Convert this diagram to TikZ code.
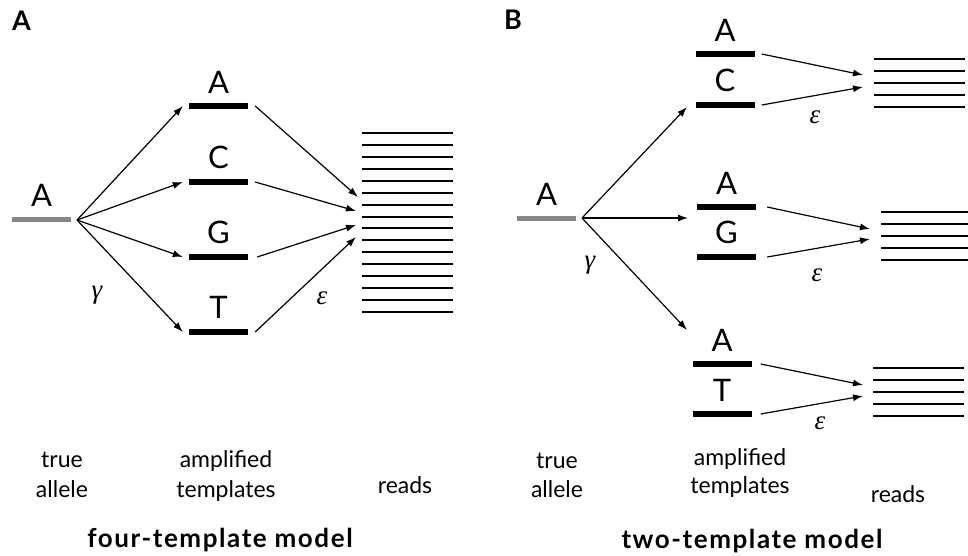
\documentclass[tikz,border=0pt]{standalone}
\usepackage{fontspec}
\setmainfont{Lato}
\newfontfamily\ratefont{Liberation Serif}
\newfontfamily\titlefont[LetterSpace=6]{Lato}
\usetikzlibrary{arrows.meta}
\definecolor{allelegray}{RGB}{135,135,135}
\begin{document}
\begin{tikzpicture}[x=1pt,y=-1pt,
  tmpl/.style={fill=black, draw=none, inner sep=0pt, minimum width=59pt, minimum height=6pt},
  truebar/.style={fill=allelegray, draw=none, inner sep=0pt, minimum width=59pt, minimum height=5pt},
  base/.style={font=\fontsize{31}{31}\selectfont, anchor=base, inner sep=0pt},
  lbl/.style={font=\fontsize{23}{23}\selectfont, anchor=base, inner sep=0pt},
  ttl/.style={font=\titlefont\fontsize{26}{26}\selectfont\bfseries, anchor=base, inner sep=0pt},
  panel/.style={font=\fontsize{27}{27}\selectfont\bfseries, anchor=base west, inner sep=0pt},
  rate/.style={font=\fontsize{27}{27}\selectfont\ratefont\itshape, inner sep=0pt},
  arr/.style={line width=1.2pt, -{Latex[length=10pt,width=7pt]}},
  readline/.style={line width=2pt}
]
\useasboundingbox (0,0) rectangle (968,555);

% ---------------- panel A: four-template model ----------------
\node[panel] (pA) at (12,30) {A};

\node[truebar] (allA) at (41.5,219) {};
\node[base] (allAl) at (41.5,206) {A};
\coordinate (oA) at (77,220);

\node[tmpl] (tA) at (218.5,106) {};
\node[tmpl] (tC) at (218.5,182) {};
\node[tmpl] (tG) at (218.5,257) {};
\node[tmpl] (tT) at (218.5,332) {};
\node[base] at (218.5,93) {A};
\node[base] at (218.5,168) {C};
\node[base] at (218.5,243) {G};
\node[base] at (218.5,318) {T};

\foreach \i in {0,...,15}
  \draw[readline] (362,{133+\i*11.93}) -- (453,{133+\i*11.93});

\coordinate (rA1) at (358,197);
\coordinate (rA2) at (356,211);
\coordinate (rA3) at (356,225);
\coordinate (rA4) at (356,237);

\draw[arr] (oA) -- ([xshift=-6pt]tA.west);
\draw[arr] (oA) -- ([xshift=-6pt]tC.west);
\draw[arr] (oA) -- ([xshift=-6pt]tG.west);
\draw[arr] (oA) -- ([xshift=-6pt]tT.west);

\draw[arr] ([xshift=7pt]tA.east) -- (rA1);
\draw[arr] ([xshift=7pt]tC.east) -- (rA2);
\draw[arr] ([xshift=9pt]tG.east) -- (rA3);
\draw[arr] ([xshift=7pt]tT.east) -- (rA4);

\node[rate] (gA) at (97,295) {γ};
\node[rate] (eA) at (322,298) {ε};

\node[lbl] at (62,467) {true};
\node[lbl] at (62,497) {allele};
\node[lbl] at (226,467) {amplified};
\node[lbl] at (226,497) {templates};
\node[lbl] at (405,493) {reads};
\node[ttl] at (220,547) {four-template model};

% ---------------- panel B: two-template model ----------------
\node[panel] (pB) at (504,29) {B};

\node[truebar] (allB) at (546.5,218) {};
\node[base] (allBl) at (546.5,205) {A};
\coordinate (oB) at (582,218);

% pair A/C
\node[tmpl] (b1A) at (725,54) {};
\node[tmpl] (b1C) at (725,105) {};
\node[base] at (725,41) {A};
\node[base] at (725,91) {C};
% pair A/G
\node[tmpl] (b2A) at (726.5,207) {};
\node[tmpl] (b2G) at (726.5,257) {};
\node[base] at (726.5,194) {A};
\node[base] at (726.5,243) {G};
% pair A/T
\node[tmpl] (b3A) at (722,364) {};
\node[tmpl] (b3T) at (722,414) {};
\node[base] at (722,351) {A};
\node[base] at (722,401) {T};

\foreach \i in {0,...,4} {
  \draw[readline] (874,{59+\i*12}) -- (965,{59+\i*12});
  \draw[readline] (881,{212+\i*12}) -- (968,{212+\i*12});
  \draw[readline] (873,{368+\i*12}) -- (964,{368+\i*12});
}

\coordinate (p1) at (687,107);
\coordinate (p2) at (688,218);
\coordinate (p3) at (687,330);
\draw[arr] (oB) -- (p1);
\draw[arr] (oB) -- (p2);
\draw[arr] (oB) -- (p3);

\coordinate (r1a) at (863,75);
\coordinate (r1b) at (863,87);
\coordinate (r2a) at (870,229);
\coordinate (r2b) at (870,239);
\coordinate (r3a) at (863,385);
\coordinate (r3b) at (863,396);

\draw[arr] ([xshift=7pt]b1A.east) -- (r1a);
\draw[arr] ([xshift=7pt]b1C.east) -- (r1b);
\draw[arr] ([xshift=11pt]b2A.east) -- (r2a);
\draw[arr] ([xshift=11pt]b2G.east) -- (r2b);
\draw[arr] ([xshift=9pt]b3A.east) -- (r3a);
\draw[arr] ([xshift=9pt]b3T.east) -- (r3b);

\node[rate] (gB) at (590,265) {γ};
\node[rate] (eB1) at (815,117) {ε};
\node[rate] (eB2) at (817,275) {ε};
\node[rate] (eB3) at (820,423) {ε};

\node[lbl] at (557,468) {true};
\node[lbl] at (557,497) {allele};
\node[lbl] at (740,465) {amplified};
\node[lbl] at (740,493) {templates};
\node[lbl] at (898,502) {reads};
\node[ttl] at (752,548) {two-template model};
\end{tikzpicture}
\end{document}
